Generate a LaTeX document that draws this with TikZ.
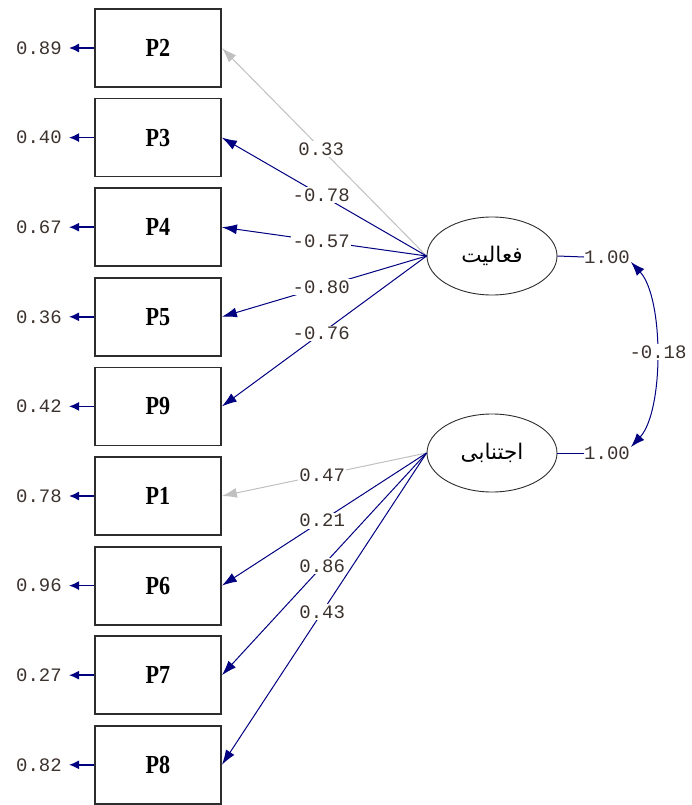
\documentclass[tikz,border=0pt]{standalone}
\usepackage{fontspec}
\usetikzlibrary{arrows.meta,shapes.geometric}
\TeXXeTstate=1
\newfontfamily\monofnt{Liberation Mono}
\newfontfamily\boxfnt[FakeStretch=0.85]{Liberation Serif}
\newfontfamily\arabicfont[Script=Arabic]{DejaVu Sans}
\definecolor{navy}{RGB}{0,0,128}
\definecolor{lgray}{RGB}{192,192,192}
\definecolor{txt}{RGB}{60,50,45}
\definecolor{edge}{RGB}{45,45,45}
\begin{document}
\begin{tikzpicture}[x=1pt,y=-1pt,
  obs/.style={draw=edge,line width=1.8pt,minimum width=126pt,minimum height=78pt,inner sep=0pt,
    font=\boxfnt\bfseries\fontsize{26}{28}\selectfont},
  lat/.style={draw=edge,line width=0.9pt,ellipse,minimum width=130pt,minimum height=78pt,inner sep=0pt,
    font=\arabicfont\fontsize{21.5}{24}\selectfont},
  pth/.style={draw=navy,line width=1pt,-{Latex[length=15pt,width=10pt]}},
  gpth/.style={draw=lgray,line width=1pt,-{Latex[length=15pt,width=10pt]}},
  lab/.style={fill=white,inner sep=1.5pt,text=txt,font=\monofnt\fontsize{19}{21}\selectfont},
  errtxt/.style={inner sep=0pt,text=txt,font=\monofnt\fontsize{19}{21}\selectfont},
  err/.style={draw=navy,line width=1.5pt,-{Latex[length=10pt,width=9pt]}}
]
\useasboundingbox (0,0) rectangle (692,805);
% observed variables
\foreach \nm/\lb/\e [count=\i from 0] in {p2/P2/0.89,p3/P3/0.40,p4/P4/0.67,p5/P5/0.36,p9/P9/0.42,p1/P1/0.78,p6/P6/0.96,p7/P7/0.27,p8/P8/0.82}{
  \node[obs] (\nm) at (158,{48+89.6*\i}) {\lb};
  \node[errtxt] (e\nm) at (39,{48+89.6*\i}) {\e};
  \coordinate (t\nm) at (69,{48+89.6*\i});
  \draw[err] (\nm.west) -- (t\nm);
}
% latent variables
\node[lat] (fa) at (492,256) {\beginR فعالیت\endR};
\node[lat] (ej) at (492,453) {\beginR اجتنابی\endR};
% paths
\draw[gpth] (fa.west) -- (p2.east);
\draw[pth] (fa.west) -- (p3.east);
\draw[pth] (fa.west) -- (p4.east);
\draw[pth] (fa.west) -- (p5.east);
\draw[pth] (fa.west) -- (p9.east);
\draw[gpth] (ej.west) -- (p1.east);
\draw[pth] (ej.west) -- (p6.east);
\draw[pth] (ej.west) -- (p7.east);
\draw[pth] (ej.west) -- (p8.east);
% path labels
\path (fa.west) -- node[lab,pos=0.515] {0.33} (p2.east);
\path (fa.west) -- node[lab,pos=0.515] {-0.78} (p3.east);
\path (fa.west) -- node[lab,pos=0.515] {-0.57} (p4.east);
\path (fa.west) -- node[lab,pos=0.515] {-0.80} (p5.east);
\path (fa.west) -- node[lab,pos=0.515] {-0.76} (p9.east);
\path (ej.west) -- node[lab,pos=0.51] {0.47} (p1.east);
\path (ej.west) -- node[lab,pos=0.51] {0.21} (p6.east);
\path (ej.west) -- node[lab,pos=0.51] {0.86} (p7.east);
\path (ej.west) -- node[lab,pos=0.51] {0.43} (p8.east);
% variances
\node[lab,fill=none,inner sep=0pt] (v1) at (607,257) {1.00};
\node[lab,fill=none,inner sep=0pt] (v2) at (607,453) {1.00};
\draw[navy,line width=1pt] (fa.east) -- (v1.west);
\draw[navy,line width=1pt] (ej.east) -- (v2.west);
% covariance
\coordinate (c1) at (631,262);
\coordinate (c2) at (631,447);
\draw[navy,line width=1pt,{Latex[length=14pt,width=10pt]}-{Latex[length=14pt,width=10pt]}]
  (c1) .. controls (664,298) and (664,411) .. (c2);
\node[lab] (cv) at (658,352) {-0.18};
\end{tikzpicture}
\end{document}
